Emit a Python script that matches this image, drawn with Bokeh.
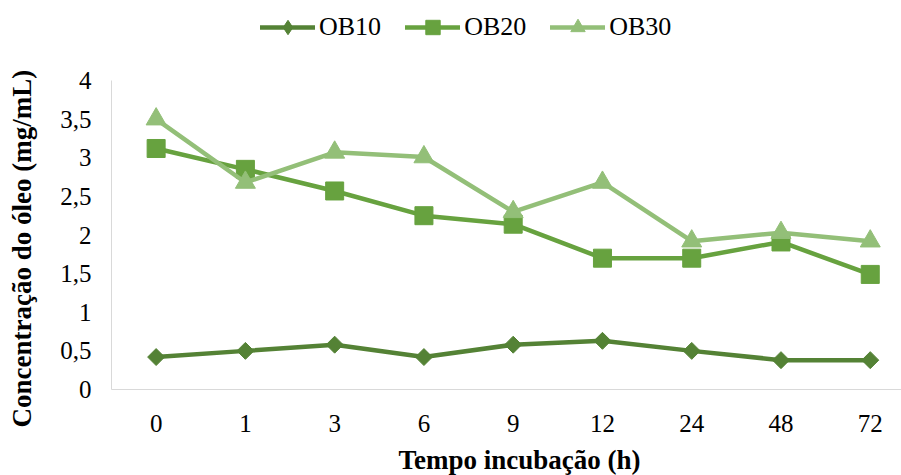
import math

from bokeh.core.properties import value
from bokeh.embed import file_html
from bokeh.models import (ColumnDataSource, FixedTicker, Legend, LegendItem,
                          Range1d, Title)
from bokeh.plotting import figure
from bokeh.resources import INLINE

# Incubation times (h) and oil concentration (mg/mL) for each condition
hours = ["0", "1", "3", "6", "9", "12", "24", "48", "72"]
ob10 = [0.42, 0.50, 0.58, 0.42, 0.58, 0.63, 0.50, 0.38, 0.38]
ob20 = [3.12, 2.85, 2.57, 2.25, 2.14, 1.70, 1.70, 1.91, 1.49]
ob30 = [3.50, 2.68, 3.07, 3.01, 2.30, 2.68, 1.92, 2.03, 1.92]

y_ticks = [0, 0.5, 1, 1.5, 2, 2.5, 3, 3.5, 4]
y_tick_labels = ["0", "0,5", "1", "1,5", "2", "2,5", "3", "3,5", "4"]

FONT = "Liberation Serif"
AXIS_GRAY = "#d9d9d9"

x_pos = list(range(len(hours)))

# The frame reaches the top edge so the legend can sit above the data;
# the y range's upper end leaves that headroom, the axis itself stops at 4.
p = figure(
    width=901,
    height=475,
    x_range=Range1d(-0.5, 8.35),
    y_range=Range1d(0, 5.036),
    output_backend="svg",
    toolbar_location=None,
    min_border_left=111,
    min_border_right=0,
    min_border_top=0,
    min_border_bottom=86,
)
p.outline_line_color = None
p.grid.visible = False
p.background_fill_color = "white"
p.border_fill_color = "white"

# x axis: incubation times as evenly spaced categories
p.xaxis.ticker = FixedTicker(ticks=x_pos)
p.xaxis.major_label_overrides = {i: h for i, h in enumerate(hours)}
p.xaxis.major_label_standoff = 25

# y axis
p.yaxis.ticker = FixedTicker(ticks=y_ticks)
p.yaxis.major_label_overrides = {t: l for t, l in zip(y_ticks, y_tick_labels)}
p.yaxis.major_label_standoff = 20
p.yaxis.bounds = (0, 4)

for ax in (p.xaxis, p.yaxis):
    ax.axis_line_color = AXIS_GRAY
    ax.axis_line_width = 1
    ax.major_tick_line_color = None
    ax.minor_tick_line_color = None
    ax.major_tick_out = 0
    ax.major_tick_in = 0
    ax.major_label_text_font = FONT
    ax.major_label_text_font_size = "25px"
    ax.major_label_text_color = "black"


def gap(px):
    # thin blank panel used as spacing between an axis and its title
    return Title(text=" ", text_font_size="1px", standoff=px)


# axis titles
p.add_layout(gap(5), "below")
p.add_layout(Title(text="Tempo incubação (h)", align="left", offset=287,
                   standoff=0, text_font=FONT, text_font_size="27px",
                   text_font_style="bold", text_color="black"), "below")
p.add_layout(gap(18), "left")
p.add_layout(Title(text="Concentração do óleo (mg/mL)", align="left", offset=-38,
                   standoff=0, text_font=FONT, text_font_size="27px",
                   text_font_style="bold", text_color="black"), "left")

series = [
    ("OB10", ob10, "#548235", "square", 12, math.pi / 4),
    ("OB20", ob20, "#67a23f", "square", 18, 0.0),
    ("OB30", ob30, "#93bf78", "triangle", 20, 0.0),
]

items = []
for name, vals, color, marker, size, angle in series:
    src = ColumnDataSource(dict(x=x_pos, y=vals))
    ln = p.line("x", "y", source=src, line_color=color, line_width=4.5,
                line_join="round", line_cap="round")
    sc = p.scatter("x", "y", source=src, marker=marker, size=size, angle=angle,
                   fill_color=color, line_color=color, line_width=1)
    key = sc
    if angle:
        # legend key drawn as an upright diamond (not shown on the plot)
        key = p.scatter("x", "y", source=src, marker="diamond", size=size,
                        fill_color=color, line_color=color, visible=False)
    items.append(LegendItem(label=value(name), renderers=[ln, key]))

legend = Legend(
    items=items,
    orientation="horizontal",
    location=(149, 344),
    glyph_width=55,
    glyph_height=36,
    label_standoff=4,
    spacing=24,
    padding=0,
    margin=0,
    border_line_color=None,
    background_fill_alpha=0,
    label_text_font=FONT,
    label_text_font_size="26px",
    label_text_color="black",
)
p.add_layout(legend, "center")

open("out.html", "w").write(file_html(p, INLINE))
